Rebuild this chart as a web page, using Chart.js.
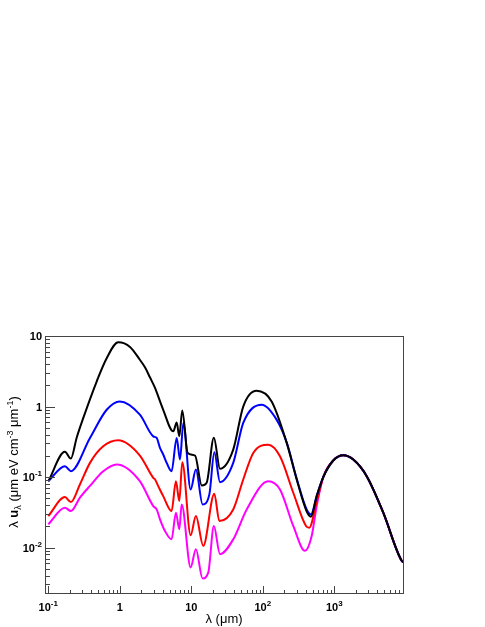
<!DOCTYPE html>
<html>
<head>
<meta charset="utf-8">
<script src="https://cdn.jsdelivr.net/npm/chart.js@4"></script>
<style>
  html, body { margin: 0; padding: 0; background: #fff; }
  canvas { display: block; }
</style>
</head>
<body>
<canvas id="isrf" width="485" height="627"></canvas>
<script>
// ----------------------------
// DATA (wavelength in um, lambda*u_lambda in eV cm^-3)
// ----------------------------
const blackLambda = [0.1, 0.171, 0.207, 0.249, 0.309, 0.475, 0.656, 0.953, 1.39, 1.91, 2.25, 2.64, 3.1, 3.28, 4.05, 5.6, 6.25, 6.8, 7.48, 8.9, 11.3, 14, 16.4, 20.7, 25.2, 38.6, 53.3, 82, 133, 216, 298, 409, 472, 567];
const blackU = [0.087, 0.228, 0.183, 0.359, 0.689, 2.26, 4.84, 8.15, 7.0, 4.6, 3.6, 2.6, 1.85, 1.6, 0.90, 0.445, 0.595, 0.38, 0.88, 0.22, 0.202, 0.076, 0.083, 0.362, 0.131, 0.245, 1.0, 1.67, 1.18, 0.305, 0.0925, 0.033, 0.0275, 0.0537];

const blueLambda = [0.1, 0.171, 0.207, 0.383, 0.656, 1.0, 1.91, 2.94, 3.28, 3.65, 4.05, 4.53, 5.3, 6.25, 6.95, 7.75, 9.8, 11.6, 14.4, 17.9, 21, 25.2, 38.6, 53.3, 96.6, 156, 216, 298, 409, 472, 567];
const blueU = [0.087, 0.1426, 0.121, 0.359, 0.90, 1.18, 0.766, 0.378, 0.359, 0.259, 0.209, 0.159, 0.121, 0.359, 0.177, 0.585, 0.0668, 0.128, 0.041, 0.0568, 0.225, 0.0848, 0.159, 0.585, 1.06, 0.652, 0.31, 0.095, 0.035, 0.0295, 0.0537];

const redLambda = [0.1, 0.171, 0.207, 0.277, 0.383, 0.587, 0.953, 1.91, 2.94, 3.1, 3.45, 4.05, 5.3, 6.1, 6.8, 7.48, 9.8, 11.6, 14.7, 21, 24.7, 38.6, 53.3, 73.6, 119, 174, 267, 402, 447, 567];
const redU = [0.028, 0.052, 0.0442, 0.0786, 0.159, 0.273, 0.332, 0.202, 0.0977, 0.093, 0.0745, 0.0537, 0.033, 0.0875, 0.0457, 0.162, 0.015, 0.028, 0.0106, 0.058, 0.0238, 0.0348, 0.0925, 0.22, 0.288, 0.197, 0.06, 0.0203, 0.0192, 0.045];

const magentaLambda = [0.1, 0.171, 0.207, 0.277, 0.383, 0.587, 0.906, 1.91, 2.94, 3.28, 3.65, 4.29, 5.3, 6.1, 6.8, 7.34, 9.8, 11.6, 14.4, 17.3, 20.7, 25.2, 38.6, 59.6, 119, 174, 267, 389, 483, 567];
const magentaU = [0.0214, 0.0368, 0.033, 0.051, 0.075, 0.121, 0.151, 0.0875, 0.0388, 0.0348, 0.0252, 0.0172, 0.0131, 0.0313, 0.0182, 0.041, 0.00524, 0.0095, 0.00366, 0.00445, 0.0203, 0.00807, 0.0131, 0.0348, 0.0875, 0.0668, 0.0203, 0.009, 0.0146, 0.0388];

// common CMB tail, all four curves merge here
const cmbLambda = [701, 968, 1336, 1845, 2840, 4840, 8770, 9440];
const cmbU = [0.1, 0.172, 0.204, 0.177, 0.103, 0.0313, 0.0065, 0.0062];

// tick labels: [base, exponent]
const xTickValues = [0.1, 1, 10, 100, 1000];
const xTickLabels = [['10', '-1'], ['1', ''], ['10', ''], ['10', '2'], ['10', '3']];
const yTickValues = [10, 1, 0.1, 0.01];
const yTickLabels = [['10', ''], ['1', ''], ['10', '-1'], ['10', '-2']];

const FONT = '"Liberation Sans", Helvetica, Arial, sans-serif';

function series(lam, u) {
  const pts = lam.map((l, i) => ({ x: l, y: u[i] }));
  return pts.concat(cmbLambda.map((l, i) => ({ x: l, y: cmbU[i] })));
}

// ----------------------------
// RICH TEXT (sub / superscripts)
// ----------------------------
function partFont(p, size) {
  const s = p[1] === 'sup' || p[1] === 'sub' ? Math.round(size * 0.72) : size;
  const w = p[1] === 'b' || p[2] ? 'bold ' : '';
  return w + s + 'px ' + FONT;
}

function richWidth(ctx, parts, size) {
  let w = 0;
  parts.forEach(p => { ctx.font = partFont(p, size); w += ctx.measureText(p[0]).width; });
  return w;
}

function drawRich(ctx, parts, x, y, size, align) {
  const w = richWidth(ctx, parts, size);
  let cx = align === 'center' ? x - w / 2 : align === 'right' ? x - w : x;
  ctx.textBaseline = 'alphabetic';
  ctx.textAlign = 'left';
  parts.forEach(p => {
    ctx.font = partFont(p, size);
    let dy = 0;
    if (p[1] === 'sup') dy = -size * 0.42;
    if (p[1] === 'sub') dy = size * 0.25;
    ctx.fillText(p[0], cx, y + dy);
    cx += ctx.measureText(p[0]).width;
  });
}

function tickParts(lbl) {
  const parts = [[lbl[0], '', true]];
  if (lbl[1]) parts.push([lbl[1], 'sup', true]);
  return parts;
}

// ----------------------------
// FRAME, INWARD TICKS, LABELS
// ----------------------------
const rootAxes = {
  id: 'rootAxes',
  afterDatasetsDraw(chart) {
    const { ctx, chartArea: a, scales: { x, y } } = chart;
    ctx.save();
    ctx.strokeStyle = '#444';
    ctx.lineWidth = 1;
    ctx.strokeRect(a.left + 0.5, a.top + 0.5, a.right - a.left - 1, a.bottom - a.top - 1);

    ctx.beginPath();
    for (let e = -2; e <= 4; e++) {
      for (let k = 1; k <= 9; k++) {
        const v = k * Math.pow(10, e);
        if (v < x.min || v > x.max) continue;
        const px = Math.round(x.getPixelForValue(v)) + 0.5;
        ctx.moveTo(px, a.bottom);
        ctx.lineTo(px, a.bottom - (k === 1 ? 8 : 4));
      }
    }
    for (let e = -3; e <= 1; e++) {
      for (let k = 1; k <= 9; k++) {
        const v = k * Math.pow(10, e);
        if (v < y.min || v > y.max) continue;
        const py = Math.round(y.getPixelForValue(v)) + 0.5;
        ctx.moveTo(a.left, py);
        ctx.lineTo(a.left + (k === 1 ? 10 : 5), py);
      }
    }
    ctx.stroke();

    ctx.fillStyle = '#000';
    xTickValues.forEach((v, i) => {
      drawRich(ctx, tickParts(xTickLabels[i]), x.getPixelForValue(v), 611, 11, 'center');
    });
    yTickValues.forEach((v, i) => {
      drawRich(ctx, tickParts(yTickLabels[i]), 42, y.getPixelForValue(v) + 4, 11, 'right');
    });

    // axis titles
    drawRich(ctx, [['λ (μm)', '']], 224, 623, 13, 'center');
    ctx.translate(18, 462);
    ctx.rotate(-Math.PI / 2);
    drawRich(ctx, [
      ['λ ', ''], ['u', 'b'], ['λ', 'sub'], [' (μm eV cm', ''], ['-3', 'sup'],
      [' μm', ''], ['-1', 'sup'], [')', '']
    ], 0, 0, 13, 'center');
    ctx.restore();
  }
};

// ----------------------------
// CHART
// ----------------------------
const lineStyle = { borderWidth: 2, pointRadius: 0, fill: false, cubicInterpolationMode: 'monotone' };

new Chart(document.getElementById('isrf'), {
  type: 'line',
  data: {
    datasets: [
      { ...lineStyle, data: series(blackLambda, blackU), borderColor: '#000000' },
      { ...lineStyle, data: series(blueLambda, blueU), borderColor: '#0000ff' },
      { ...lineStyle, data: series(redLambda, redU), borderColor: '#ff0000' },
      { ...lineStyle, data: series(magentaLambda, magentaU), borderColor: '#ff00ff' }
    ]
  },
  options: {
    responsive: false,
    animation: false,
    devicePixelRatio: 1,
    layout: { padding: { top: 336, right: 81, left: 0, bottom: 0 } },
    plugins: { legend: { display: false }, tooltip: { enabled: false } },
    scales: {
      x: {
        type: 'logarithmic', min: 0.09, max: 9440,
        ticks: { display: false }, grid: { display: false }, border: { display: false },
        afterFit: s => { s.height = 33; }
      },
      y: {
        type: 'logarithmic', min: 0.0022, max: 10,
        ticks: { display: false }, grid: { display: false }, border: { display: false },
        afterFit: s => { s.width = 45; }
      }
    }
  },
  plugins: [rootAxes]
});
</script>
</body>
</html>
